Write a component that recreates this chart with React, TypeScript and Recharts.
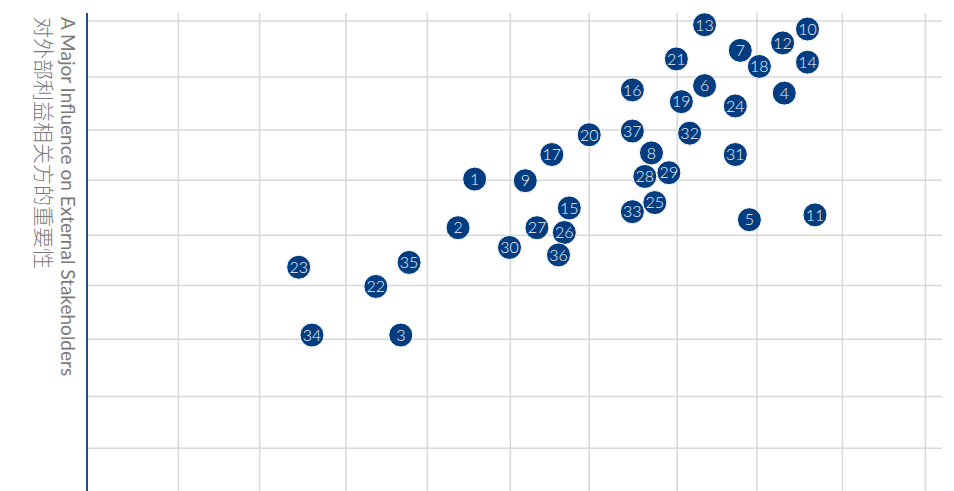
import React from 'react';
import { ScatterChart, Scatter, XAxis, YAxis, CartesianGrid } from 'recharts';

// issue number, position on the matrix
const ids = [1, 2, 3, 4, 5, 6, 7, 8, 9, 10, 11, 12, 13, 14, 15, 16, 17, 18, 19, 20, 21, 22, 23, 24, 25, 26, 27, 28, 29, 30, 31, 32, 33, 34, 35, 36, 37];
const xValues = [4.57, 4.37, 3.68, 8.3, 7.88, 7.34, 7.77, 6.7, 5.18, 8.58, 8.67, 8.28, 7.34, 8.58, 5.71, 6.47, 5.5, 8.0, 7.06, 5.95, 7.0, 3.38, 2.45, 7.71, 6.74, 5.65, 5.32, 6.62, 6.91, 4.99, 7.71, 7.16, 6.47, 2.61, 3.78, 5.58, 6.47];
const yValues = [6.04, 5.13, 3.12, 7.65, 5.28, 7.79, 8.45, 6.53, 6.01, 8.85, 5.37, 8.59, 8.93, 8.23, 5.5, 7.71, 6.5, 8.15, 7.49, 6.87, 8.29, 4.03, 4.39, 7.41, 5.6, 5.04, 5.13, 6.09, 6.16, 4.76, 6.5, 6.9, 5.43, 3.12, 4.48, 4.62, 6.94];

const xTicks = [1, 1.98, 3.02, 4, 5, 5.95, 7.01, 7.97, 9, 10];
const yTicks = [1, 1.97, 3.04, 4.05, 4.99, 6.02, 6.96, 7.95, 9];

const titleEn = 'A Major Influence on External Stakeholders';
const titleZh = '对外部利益相关方的重要性';

const data = ids.map((id, i) => ({ id, x: xValues[i], y: yValues[i] }));

const NoTick = () => <g />;

const Bubble = (props: any) => {
  const { cx, cy, payload } = props;
  if (cx == null || cy == null) return null;
  return (
    <g>
      <circle cx={cx} cy={cy} r={12} fill="#033d7f" stroke="#ffffff" strokeWidth={1} />
      <text
        x={cx}
        y={cy}
        dy="0.36em"
        textAnchor="middle"
        fill="#eef2f8"
        fontSize={16}
        fontWeight={300}
        fontFamily="Lato, 'Noto Sans', sans-serif"
      >
        {payload.id}
      </text>
    </g>
  );
};

const AxisTitle = (props: any) => {
  const { viewBox } = props;
  const x = viewBox.x + viewBox.width;
  const y = viewBox.y;
  return (
    <g fill="#7a7a7a">
      <text
        x={x - 26}
        y={y + 4}
        transform={`rotate(90 ${x - 26} ${y + 4})`}
        fontSize={19}
        fontWeight={400}
        fontFamily="Lato, 'Noto Sans', sans-serif"
      >
        {titleEn}
      </text>
      <text
        x={x - 51}
        y={y + 4}
        transform={`rotate(90 ${x - 51} ${y + 4})`}
        fontSize={21}
        fontWeight={300}
        fontFamily="'Noto Sans CJK SC', sans-serif"
      >
        {titleZh}
      </text>
    </g>
  );
};

export default function App() {
  return (
    <div style={{ position: 'absolute', left: 0, top: 0, width: 954, height: 491, background: '#fff' }}>
      <ScatterChart width={954} height={492} margin={{ top: 13, right: 12, bottom: 0, left: 86 }}>
        <CartesianGrid stroke="#d8d8d8" strokeWidth={1.5} syncWithTicks />
        <XAxis
          type="number"
          dataKey="x"
          domain={[-0.1, 10.2]}
          ticks={xTicks}
          height={1}
          axisLine={false}
          tickLine={false}
          tick={NoTick}
          allowDataOverflow
        />
        <YAxis
          type="number"
          dataKey="y"
          domain={[0.2, 9.15]}
          ticks={yTicks}
          width={1}
          tickLine={false}
          tick={NoTick}
          axisLine={{ stroke: '#1f4f94', strokeWidth: 2 }}
          allowDataOverflow
          label={<AxisTitle />}
        />
        <Scatter data={data} shape={<Bubble />} isAnimationActive={false} />
      </ScatterChart>
    </div>
  );
}
